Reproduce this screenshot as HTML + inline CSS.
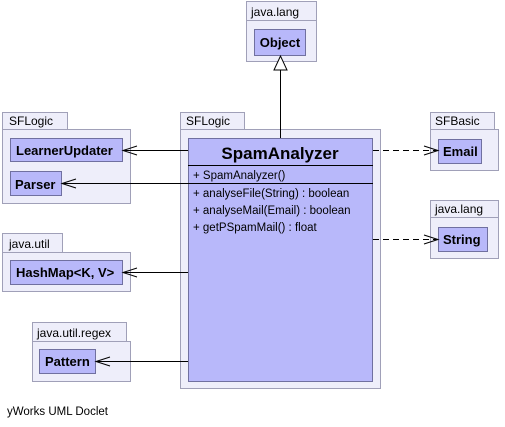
<!DOCTYPE html>
<html><head><meta charset="utf-8"><style>
html,body{margin:0;padding:0;background:#fff;width:505px;height:427px;overflow:hidden}
text{font-family:"Liberation Sans",sans-serif;fill:#000}
.pk{fill:#eeeefa;stroke:#a0a0b8;stroke-width:1}
.cl{fill:#b8b8fa;stroke:#7070a0;stroke-width:1}
.b{font-weight:bold;font-size:13px}
.s{font-size:12px}
</style></head><body>
<svg width="505" height="427" xmlns="http://www.w3.org/2000/svg">
<!-- java.lang top -->
<rect class="pk" x="246.5" y="1.5" width="70" height="19"/>
<rect class="pk" x="246.5" y="20.5" width="70" height="41"/>
<text class="s" x="251" y="16">java.lang</text>
<rect class="cl" x="254.5" y="29.5" width="51" height="26"/>
<text class="b" x="280" y="47" text-anchor="middle">Object</text>
<!-- SFLogic left -->
<rect class="pk" x="2.5" y="112.5" width="65" height="17"/>
<rect class="pk" x="2.5" y="129.5" width="128" height="74"/>
<text class="s" x="9" y="125">SFLogic</text>
<rect class="cl" x="10.5" y="138.5" width="112" height="23"/>
<text class="b" x="16" y="155">LearnerUpdater</text>
<rect class="cl" x="10.5" y="171.5" width="51" height="24"/>
<text class="b" x="15" y="189">Parser</text>
<!-- java.util -->
<rect class="pk" x="2.5" y="233.5" width="60" height="19"/>
<rect class="pk" x="2.5" y="252.5" width="128" height="39"/>
<text class="s" x="9" y="248">java.util</text>
<rect class="cl" x="10.5" y="260.5" width="112" height="24"/>
<text class="b" x="16" y="277">HashMap&lt;K, V&gt;</text>
<!-- regex -->
<rect class="pk" x="32.5" y="322.5" width="94" height="19"/>
<rect class="pk" x="32.5" y="341.5" width="98" height="40"/>
<text class="s" x="37" y="337">java.util.regex</text>
<rect class="cl" x="39.5" y="349.5" width="56" height="24"/>
<text class="b" x="45" y="366">Pattern</text>
<!-- main -->
<rect class="pk" x="180.5" y="112.5" width="64" height="17"/>
<rect class="pk" x="180.5" y="129.5" width="200" height="259"/>
<text class="s" x="186" y="125">SFLogic</text>
<rect class="cl" x="188.5" y="138.5" width="184" height="243"/>
<line x1="188" y1="165.5" x2="373" y2="165.5" stroke="#000"/>
<line x1="188" y1="183.5" x2="373" y2="183.5" stroke="#000"/>
<text x="280" y="159" text-anchor="middle" style="font-weight:bold;font-size:17px">SpamAnalyzer</text>
<g class="s" style="font-size:11.5px">
<text x="193" y="179" font-size="11.5">+ SpamAnalyzer()</text>
<text x="193" y="197" font-size="11.5">+ analyseFile(String) : boolean</text>
<text x="193" y="214" font-size="11.5">+ analyseMail(Email) : boolean</text>
<text x="193" y="231" font-size="11.5">+ getPSpamMail() : float</text>
</g>
<!-- SFBasic -->
<rect class="pk" x="430.5" y="112.5" width="64" height="17"/>
<rect class="pk" x="430.5" y="129.5" width="68" height="41"/>
<text class="s" x="435" y="125">SFBasic</text>
<rect class="cl" x="438.5" y="139.5" width="43" height="24"/>
<text class="b" x="443" y="156">Email</text>
<!-- java.lang right -->
<rect class="pk" x="430.5" y="200.5" width="68" height="17"/>
<rect class="pk" x="430.5" y="217.5" width="68" height="41"/>
<text class="s" x="435" y="213">java.lang</text>
<rect class="cl" x="438.5" y="227.5" width="49" height="24"/>
<text class="b" x="443" y="244">String</text>
<!-- edges -->
<g stroke="#000" fill="none" stroke-width="1">
<line x1="280.5" y1="70" x2="280.5" y2="138"/>
<polygon points="280.5,56 274,70 287,70" fill="#fff"/>
<line x1="188" y1="150.5" x2="123" y2="150.5"/>
<polyline points="137,146 123,150.5 137,155"/>
<line x1="188" y1="183.5" x2="62" y2="183.5"/>
<polyline points="76,179 62,183.5 76,188"/>
<line x1="188" y1="272.5" x2="123" y2="272.5"/>
<polyline points="137,268 123,272.5 137,277"/>
<line x1="188" y1="361.5" x2="96" y2="361.5"/>
<polyline points="110,357 96,361.5 110,366"/>
<line x1="373" y1="150.5" x2="438" y2="150.5" stroke-dasharray="6,4"/>
<polyline points="424,146 438,150.5 424,155"/>
<line x1="373" y1="239.5" x2="438" y2="239.5" stroke-dasharray="6,4"/>
<polyline points="424,235 438,239.5 424,244"/>
</g>
<text x="7" y="415" style="font-size:11.5px">yWorks UML Doclet</text>
</svg>
</body></html>
